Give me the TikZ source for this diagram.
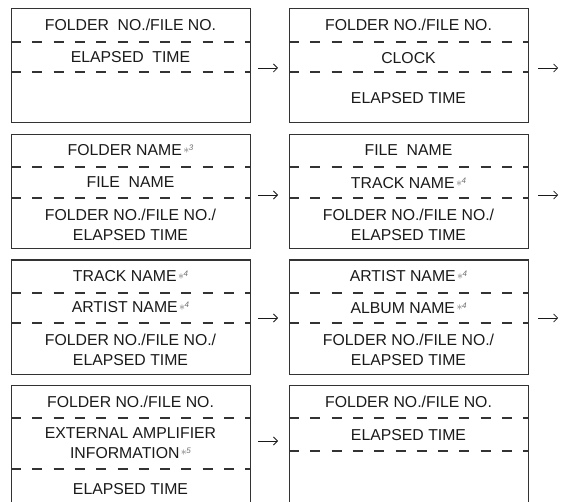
\documentclass[tikz,border=0pt]{standalone}
\usepackage{fontspec}
\setmainfont{Liberation Sans}
\usetikzlibrary{arrows.meta}
\definecolor{linec}{HTML}{333333}
\definecolor{textc}{HTML}{1A1A1A}
\definecolor{markc}{HTML}{707070}
\newcommand\astmark[1]{\hspace{1.5pt}\textcolor{markc}{\raisebox{2.4pt}{\fontsize{13}{13}\selectfont$\ast$}\hspace{-0.5pt}\raisebox{5pt}{\fontsize{8}{8}\selectfont\itshape #1}}}
\newcommand\dsp{\hspace{0.55em}}
\tikzset{
  boxnode/.style={draw=linec, line width=1.2pt, rectangle, anchor=north west, inner sep=0pt, minimum width=239pt, minimum height=114pt},
  tallbox/.style={boxnode, minimum height=140pt},
  dashline/.style={draw=linec, line width=1.2pt, dash pattern=on 10pt off 11.3pt},
  txt/.style={text=textc, font=\fontsize{15.8}{20}\selectfont, align=center, inner sep=0pt},
  arr/.style={draw=textc, line width=0.8pt, -{Straight Barb[length=4pt,width=8pt,line width=0.8pt]}}
}
\begin{document}
\begin{tikzpicture}[x=1pt,y=-1pt]
\clip (0,0) rectangle (562,502);
\fill[white] (0,0) rectangle (562,502);
% row 1
\node[boxnode] (b11) at (11,8) {};
\node[boxnode] (b12) at (289,8) {};
\draw[dashline] (b11.west |- 0,42) -- (b11.east |- 0,42);
\draw[dashline] (b11.west |- 0,72) -- (b11.east |- 0,72);
\draw[dashline] (b12.west |- 0,42) -- (b12.east |- 0,42);
\draw[dashline] (b12.west |- 0,72) -- (b12.east |- 0,72);
\node[txt] (t11a) at (130.5,25) {FOLDER\dsp NO./FILE NO.};
\node[txt] (t11b) at (130.5,57) {ELAPSED\dsp TIME};
\node[txt] (t12a) at (408.5,25) {FOLDER NO./FILE NO.};
\node[txt] (t12b) at (408.5,58) {CLOCK};
\node[txt] (t12c) at (408.5,98) {ELAPSED TIME};
\draw[arr] ([xshift=7pt]b11.east |- 0,68) -- ([xshift=-11pt]b12.west |- 0,68);
\coordinate (e1) at ([xshift=29pt]b12.east |- 0,68);
\draw[arr] ([xshift=9pt]b12.east |- 0,68) -- (e1);
% row 2
\node[boxnode] (b21) at (11,134) {};
\node[boxnode] (b22) at (289,134) {};
\draw[dashline] (b21.west |- 0,167) -- (b21.east |- 0,167);
\draw[dashline] (b21.west |- 0,198) -- (b21.east |- 0,198);
\draw[dashline] (b22.west |- 0,167) -- (b22.east |- 0,167);
\draw[dashline] (b22.west |- 0,198) -- (b22.east |- 0,198);
\node[txt] (t21a) at (130.5,150) {FOLDER NAME\astmark{3}};
\node[txt] (t21b) at (130.5,182) {FILE\dsp NAME};
\node[txt] (t21c) at (130.5,225) {FOLDER NO./FILE NO./\\ELAPSED TIME};
\node[txt] (t22a) at (408.5,150) {FILE\dsp NAME};
\node[txt] (t22b) at (408.5,183) {TRACK NAME\astmark{4}};
\node[txt] (t22c) at (408.5,225) {FOLDER NO./FILE NO./\\ELAPSED TIME};
\draw[arr] ([xshift=7pt]b21.east |- 0,195) -- ([xshift=-11pt]b22.west |- 0,195);
\coordinate (e2) at ([xshift=29pt]b22.east |- 0,195);
\draw[arr] ([xshift=9pt]b22.east |- 0,195) -- (e2);
% row 3
\node[boxnode] (b31) at (11,259.5) {};
\node[boxnode] (b32) at (289,259.5) {};
\draw[dashline] (b31.west |- 0,293) -- (b31.east |- 0,293);
\draw[dashline] (b31.west |- 0,323) -- (b31.east |- 0,323);
\draw[dashline] (b32.west |- 0,293) -- (b32.east |- 0,293);
\draw[dashline] (b32.west |- 0,323) -- (b32.east |- 0,323);
\node[txt] (t31a) at (130.5,276) {TRACK NAME\astmark{4}};
\node[txt] (t31b) at (130.5,307.5) {ARTIST NAME\astmark{4}};
\node[txt] (t31c) at (130.5,350) {FOLDER NO./FILE NO./\\ELAPSED TIME};
\node[txt] (t32a) at (408.5,276) {ARTIST NAME\astmark{4}};
\node[txt] (t32b) at (408.5,308) {ALBUM NAME\astmark{4}};
\node[txt] (t32c) at (408.5,350) {FOLDER NO./FILE NO./\\ELAPSED TIME};
\draw[arr] ([xshift=7pt]b31.east |- 0,318) -- ([xshift=-11pt]b32.west |- 0,318);
\coordinate (e3) at ([xshift=29pt]b32.east |- 0,318);
\draw[arr] ([xshift=9pt]b32.east |- 0,318) -- (e3);
% row 4
\node[tallbox] (b41) at (11,385) {};
\node[tallbox] (b42) at (289,385) {};
\draw[dashline] (b41.west |- 0,418) -- (b41.east |- 0,418);
\draw[dashline] (b41.west |- 0,469) -- (b41.east |- 0,469);
\draw[dashline] (b42.west |- 0,418) -- (b42.east |- 0,418);
\draw[dashline] (b42.west |- 0,451) -- (b42.east |- 0,451);
\node[txt] (t41a) at (130.5,401.5) {FOLDER NO./FILE NO.};
\node[txt] (t41b) at (130.5,443) {EXTERNAL AMPLIFIER\\INFORMATION\astmark{5}};
\node[txt] (t41c) at (130.5,489) {ELAPSED TIME};
\node[txt] (t42a) at (408.5,401.5) {FOLDER NO./FILE NO.};
\node[txt] (t42b) at (408.5,435) {ELAPSED TIME};
\draw[arr] ([xshift=7pt]b41.east |- 0,441) -- ([xshift=-11pt]b42.west |- 0,441);
\end{tikzpicture}
\end{document}
